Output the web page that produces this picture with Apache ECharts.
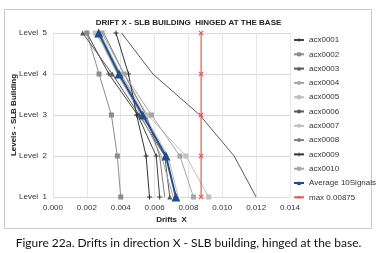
<!DOCTYPE html>
<html>
<head>
<meta charset="utf-8">
<script src="https://cdn.jsdelivr.net/npm/echarts@6/dist/echarts.min.js"></script>
<style>
  html, body { margin: 0; padding: 0; background: #fff; }
  #chartsId { width: 377px; height: 253px; }
</style>
</head>
<body>
<div id="chartsId"></div>
<script>
// levels 1..5 (bottom to top)
const levels = [1, 2, 3, 4, 5];
const xTicks = [0, 0.002, 0.004, 0.006, 0.008, 0.01, 0.012, 0.014];

// drift values per signal, level 1 -> level 5
const acx0001 = [0.0063, 0.0061, 0.0050, 0.0033, 0.0020];
const acx0002 = [0.0040, 0.0038, 0.00345, 0.00272, 0.0020];
const acx0003 = [0.0069, 0.0066, 0.0051, 0.0035, 0.00175];
const acx0004 = [0.0071, 0.0064, 0.0052, 0.0038, 0.0026];
const acx0005 = [0.0092, 0.00785, 0.0056, 0.0040, 0.0025];
const acx0006 = [0.0120, 0.0107, 0.00867, 0.0059, 0.00405];
const acx0007 = [0.0074, 0.0068, 0.0054, 0.0040, 0.0028];
const acx0008 = [0.0066, 0.0063, 0.0055, 0.0042, 0.0030];
const acx0009 = [0.0057, 0.0055, 0.00494, 0.00446, 0.00372];
const acx0010 = [0.0083, 0.0075, 0.00582, 0.0042, 0.0029];
const average = [0.00726, 0.00667, 0.0053, 0.0039, 0.0027];
const maxLine = [0.00875, 0.00875, 0.00875, 0.00875, 0.00875];

const plusPath = "path://M4,0H6V4H10V6H6V10H4V6H0V4H4Z";

function pts(arr) {
  return arr.map((v, i) => [v, levels[i]]);
}

function mk(name, data, color, symbol, size, width) {
  return {
    name: name,
    type: "line",
    data: pts(data),
    symbol: symbol,
    symbolSize: size,
    showSymbol: symbol !== "none",
    lineStyle: { color: color, width: width || 1 },
    itemStyle: { color: color },
    emphasis: { disabled: true },
    z: 2
  };
}

const font = "'Liberation Sans Narrow', 'Liberation Sans', Arial, sans-serif";

let myChart = echarts.init(document.getElementById("chartsId"), null, { renderer: "canvas" });
let option = {
  animation: false,
  textStyle: { fontFamily: font },
  title: [
    {
      text: "DRIFT X - SLB BUILDING  HINGED AT THE BASE",
      left: "center",
      top: 14,
      textStyle: { fontFamily: font, fontSize: 8, fontWeight: "bold", color: "#222" }
    },
    {
      text: "Figure 22a. Drifts in direction X - SLB building, hinged at the base.",
      left: "center",
      top: 232,
      textStyle: { fontFamily: "Lato, 'Open Sans', sans-serif", fontSize: 12, fontWeight: "normal", color: "#111" }
    }
  ],
  graphic: [
    {
      type: "rect",
      shape: { x: 4.5, y: 9.5, width: 367, height: 219 },
      style: { fill: "none", stroke: "#c8c8c8", lineWidth: 1 },
      silent: true
    }
  ],
  legend: {
    orient: "vertical",
    left: 293,
    top: 36,
    padding: 0,
    itemWidth: 10,
    itemHeight: 5,
    itemGap: 6.3,
    textStyle: { fontFamily: font, fontSize: 8, color: "#333" },
    data: ["acx0001", "acx0002", "acx0003", "acx0004", "acx0005", "acx0006",
      "acx0007", "acx0008", "acx0009", "acx0010", "Average 10Signals", "max 0.00875"]
  },
  grid: { left: 53, right: 87, top: 33, bottom: 56, outerBoundsMode: "none" },
  xAxis: {
    type: "value",
    min: 0,
    max: 0.014,
    interval: 0.002,
    name: "Drifts  X",
    nameLocation: "middle",
    nameGap: 19,
    nameMoveOverlap: false,
    nameTextStyle: { fontFamily: font, fontSize: 8, fontWeight: "bold", color: "#222" },
    axisLine: { show: false },
    axisTick: { show: false },
    axisLabel: {
      fontFamily: font, fontSize: 8, color: "#333", margin: 7,
      formatter: function (v) { return v.toFixed(3); }
    },
    splitLine: { lineStyle: { color: "#e6e6e6", width: 1 } }
  },
  yAxis: {
    type: "value",
    min: 1,
    max: 5,
    interval: 1,
    name: "Levels - SLB Building",
    nameLocation: "middle",
    nameGap: 35,
    nameMoveOverlap: false,
    nameTextStyle: { fontFamily: font, fontSize: 8, fontWeight: "bold", color: "#222" },
    axisLine: { show: false },
    axisTick: { show: false },
    axisLabel: {
      fontFamily: font, fontSize: 8, color: "#333", margin: 6,
      formatter: function (v) { return "Level  " + v; }
    },
    splitLine: { lineStyle: { color: "#d9d9d9", width: 1 } }
  },
  series: [
    mk("acx0001", acx0001, "#404040", plusPath, 5),
    mk("acx0002", acx0002, "#8c8c8c", "rect", 5),
    mk("acx0003", acx0003, "#595959", "triangle", 5),
    mk("acx0004", acx0004, "#a6a6a6", "none", 0),
    mk("acx0005", acx0005, "#bfbfbf", "rect", 5),
    mk("acx0006", acx0006, "#595959", "none", 0),
    mk("acx0007", acx0007, "#bfbfbf", "none", 0),
    mk("acx0008", acx0008, "#7f7f7f", "none", 0),
    mk("acx0009", acx0009, "#333333", plusPath, 5),
    mk("acx0010", acx0010, "#a6a6a6", "rect", 5),
    Object.assign(mk("Average 10Signals", average, "#1f4e8c", "triangle", 9, 2), { z: 4 }),
    Object.assign(mk("max 0.00875", maxLine, "#e05a5a", plusPath, 6, 1.2), { symbolRotate: 45, z: 3 })
  ]
};
myChart.setOption(option);
</script>
</body>
</html>
